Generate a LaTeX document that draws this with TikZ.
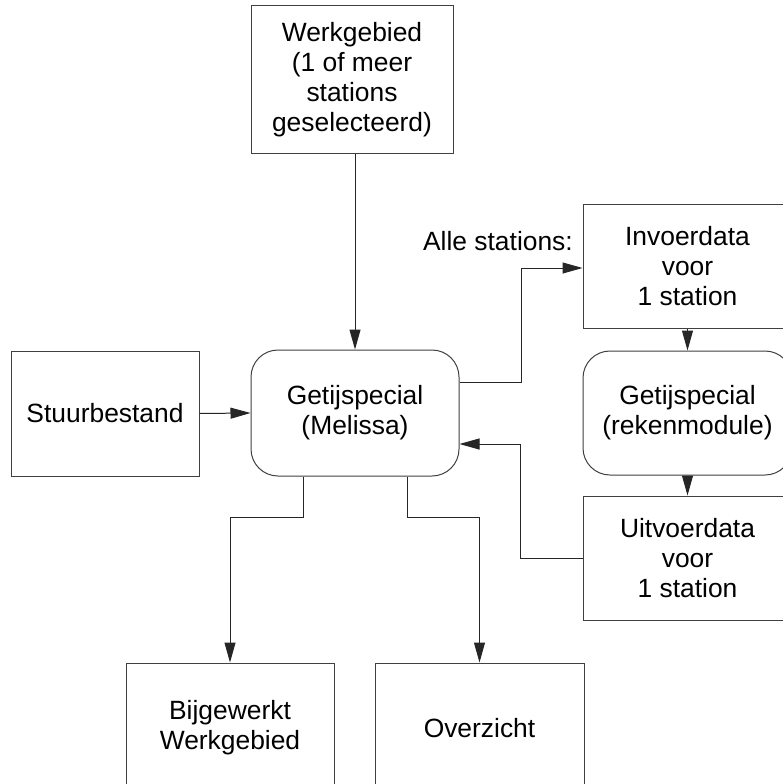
\documentclass[tikz,border=0pt]{standalone}
\usepackage{fontspec}
\setmainfont{Liberation Sans}
\usetikzlibrary{arrows.meta}
\tikzset{
  box/.style={draw=black!75, line width=1pt, inner sep=0pt, align=center,
    font=\fontsize{26.4}{30}\selectfont},
  roundbox/.style={box, rounded corners=27pt},
  arr/.style={draw=black!85, line width=1pt, -{Triangle[length=20pt,width=11pt]}},
  lbl/.style={inner sep=0pt, font=\fontsize{26.4}{30}\selectfont}
}
\begin{document}
\begin{tikzpicture}[x=1pt,y=-1pt]
\clip (0,0) rectangle (783,784);
\fill[white] (0,0) rectangle (783,784);
\node[box, minimum width=202pt, minimum height=147pt] (werk) at (352,79.5)
  {Werkgebied\\(1 of meer\\stations\\geselecteerd)};
\node[box, minimum width=188pt, minimum height=125pt] (stuur) at (105,413.5) {Stuurbestand};
\node[roundbox, minimum width=208pt, minimum height=126pt] (mel) at (355,413)
  {Getijspecial\\(Melissa)};
\node[box, minimum width=209pt, minimum height=124pt] (inv) at (687.5,266)
  {Invoerdata\\voor\\1 station};
\node[roundbox, minimum width=209pt, minimum height=124pt] (rek) at (687.5,413)
  {Getijspecial\\(rekenmodule)};
\node[box, minimum width=209pt, minimum height=124pt] (uit) at (687.5,558)
  {Uitvoerdata\\voor\\1 station};
\node[box, minimum width=208pt, minimum height=130pt] (bij) at (230,728)
  {Bijgewerkt\\Werkgebied};
\node[box, minimum width=209pt, minimum height=130pt] (ovz) at (479.5,728) {Overzicht};
\node[lbl, anchor=base east] (alle) at (573,250) {Alle stations:};

\draw[arr] (werk.south -| mel.north) -- (mel.north);
\draw[arr] (stuur.east) -- (mel.west);
\draw[arr] ([yshift=31pt]mel.east) -- ++(62,0) |- ([yshift=-2pt]inv.west);
\draw[arr] (inv.south) -- (rek.north);
\draw[arr] (rek.south) -- (uit.north);
\draw[arr] (uit.west) -- ++(-62,0) |- ([yshift=-31pt]mel.east);
\draw[arr] ([xshift=-52pt]mel.south) -- ++(0,41) -| (bij.north);
\draw[arr] ([xshift=52pt]mel.south) -- ++(0,41) -| (ovz.north);
\end{tikzpicture}
\end{document}
